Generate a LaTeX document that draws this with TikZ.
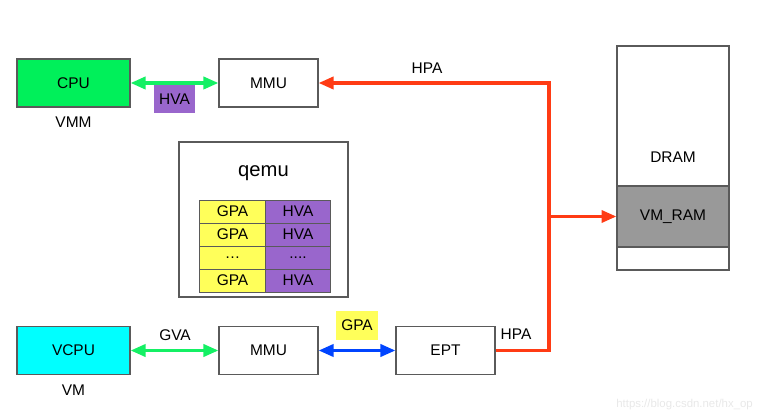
\documentclass[tikz,border=0pt]{standalone}
\usepackage{fontspec}
\setmainfont{Liberation Sans}
\usetikzlibrary{arrows.meta}

\definecolor{cpugreen}{RGB}{0,240,90}
\definecolor{linkgreen}{RGB}{20,240,100}
\definecolor{vcpucyan}{RGB}{0,255,255}
\definecolor{hvapurple}{RGB}{153,102,204}
\definecolor{gpayellow}{RGB}{255,255,90}
\definecolor{hpared}{RGB}{255,59,20}
\definecolor{gpablue}{RGB}{0,68,255}
\definecolor{ramgray}{RGB}{153,153,153}
\definecolor{edgegray}{RGB}{90,90,90}

\begin{document}
\begin{tikzpicture}[x=0.02cm, y=-0.02cm, >={Triangle[length=0.3cm,width=0.24cm]},
    font=\fontsize{8.8}{10.5}\selectfont,
    unit/.style={draw=edgegray, line width=0.6pt, minimum width=1.98cm, minimum height=0.96cm, inner sep=0pt},
    cell/.style={draw=edgegray, line width=0.5pt, minimum width=1.31cm, minimum height=0.46cm, inner sep=0pt},
    tag/.style={inner sep=0pt, minimum width=0.83cm, minimum height=0.57cm},
    link/.style={line width=2pt, <->}]

    \useasboundingbox (0,0) rectangle (759,411);

    % VMM side
    \node[unit, fill=cpugreen, minimum width=2.26cm] (cpu) at (73.5,83) {CPU};
    \node (vmm) at (73.5,122) {VMM};
    \node[unit] (mmuh) at (268.5,83) {MMU};
    \draw[link, linkgreen] (cpu) -- (mmuh);
    \node[tag, fill=hvapurple] (hva) at (174.5,99) {HVA};

    % qemu table
    \node[draw=edgegray, line width=0.6pt, minimum width=3.38cm, minimum height=3.1cm] (qemu) at (263.5,219.5) {};
    \node (qemutitle) at (263.5,173) {\fontsize{11.5}{13}\selectfont qemu};
    \foreach \r/\y in {1/211.5, 2/234.5, 4/280.5} {
        \node[cell, fill=gpayellow] (gpa\r) at (232.5,\y) {GPA};
        \node[cell, fill=hvapurple] (hva\r) at (298,\y) {HVA};
    }
    \node[cell, fill=gpayellow] (gpa3) at (232.5,257.5) {\ldots};
    \node[cell, fill=hvapurple] (hva3) at (298,257.5) {....};

    % VM side
    \node[unit, fill=vcpucyan, minimum width=2.26cm] (vcpu) at (73.5,350.5) {VCPU};
    \node (vm) at (73.5,390) {VM};
    \node[unit] (mmug) at (268.5,350.5) {MMU};
    \node[unit] (ept) at (445.5,350.5) {EPT};
    \draw[link, linkgreen] (vcpu) -- (mmug);
    \node (gva) at (175,335) {GVA};
    \draw[link, gpablue] (mmug) -- (ept);
    \node[tag, fill=gpayellow] (gpa) at (357,325.5) {GPA};
    \node (hpabottom) at (516,334) {HPA};

    % DRAM
    \node[draw=edgegray, line width=0.6pt, minimum width=2.24cm, minimum height=4.48cm] (dram) at (673,158) {};
    \node (dramlabel) at (673,157) {DRAM};
    \node[draw=edgegray, fill=ramgray, line width=0.6pt, minimum width=2.24cm, minimum height=1.22cm] (vmram) at (673,216.5) {VM\_RAM};

    % HPA path
    \coordinate (top) at (549,83);
    \coordinate (split) at (549,216.5);
    \draw[hpared, line width=2pt, ->] (ept.east) -| (top) -- (mmuh.east);
    \draw[hpared, line width=2pt, ->] (split) -- (vmram.west);
    \node (hpatop) at (427,68) {HPA};

    \node[text=gray!18, font=\fontsize{6.5}{8}\selectfont, anchor=east] (mark) at (759,405) {https://blog.csdn.net/hx\_op};

\end{tikzpicture}
\end{document}
